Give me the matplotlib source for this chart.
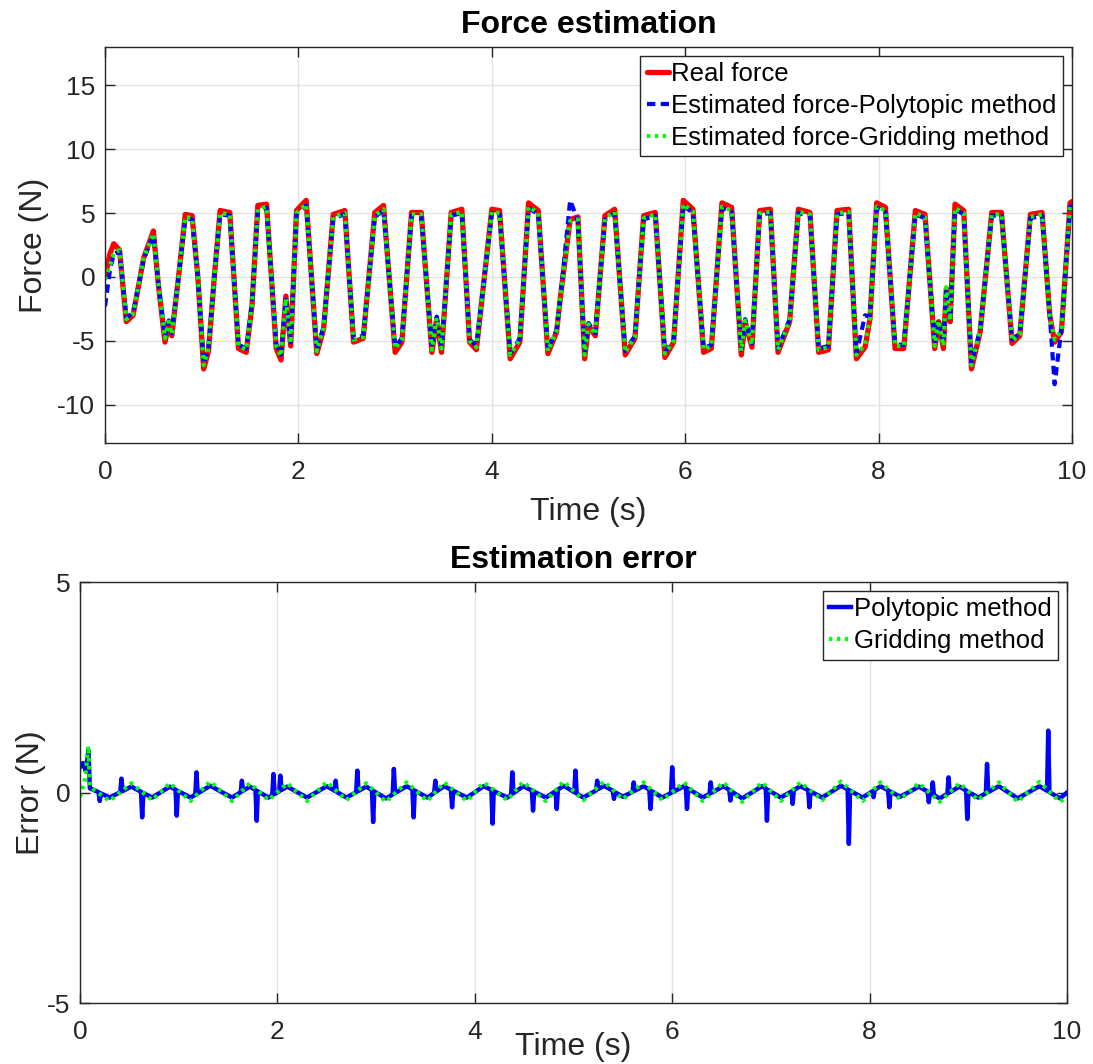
import numpy as np
import matplotlib
matplotlib.use("Agg")
import matplotlib.pyplot as plt

plt.rcParams['font.family'] = ['Liberation Sans', 'DejaVu Sans']
plt.rcParams['axes.unicode_minus'] = False

# ---------------- data ----------------
real_t = [0.00,0.05,0.09,0.15,0.22,0.29,0.40,0.50,0.55,0.62,
          0.66,0.69,0.76,0.83,0.90,0.96,1.02,1.07,1.13,1.19,
          1.29,1.38,1.46,1.52,1.58,1.67,1.77,1.82,1.87,1.92,
          1.98,2.08,2.19,2.26,2.36,2.48,2.57,2.67,2.79,2.88,
          3.00,3.07,3.17,3.27,3.38,3.43,3.48,3.58,3.69,3.77,
          3.84,4.00,4.08,4.19,4.29,4.38,4.48,4.58,4.67,4.71,
          4.81,4.89,4.96,5.00,5.07,5.17,5.27,5.38,5.48,5.57,
          5.69,5.79,5.88,5.98,6.08,6.19,6.27,6.38,6.48,6.58,
          6.62,6.69,6.77,6.88,6.96,7.08,7.17,7.29,7.38,7.48,
          7.57,7.69,7.77,7.86,7.91,7.98,8.07,8.17,8.26,8.38,
          8.48,8.58,8.62,8.67,8.70,8.74,8.79,8.88,8.96,9.05,
          9.17,9.27,9.38,9.46,9.57,9.69,9.77,9.82,9.89,9.98,
          10.0]
real_force = [0.0,1.8,2.6,2.1,-3.5,-3.0,1.5,3.6,-0.5,-5.1,
              -3.6,-4.6,0.0,4.9,4.8,0.0,-7.2,-5.8,0.0,5.2,
              5.05,-5.6,-5.9,-2.2,5.6,5.7,-5.6,-6.5,-1.5,-5.4,
              5.2,6.0,-6.0,-4.1,4.9,5.2,-5.1,-4.8,5.05,5.6,
              -5.9,-5.1,5.05,5.05,-5.9,-3.3,-5.9,5.05,5.3,-5.1,
              -5.7,5.3,5.2,-6.4,-5.1,5.8,5.2,-6.0,-4.3,-1.5,
              4.5,4.7,-6.4,-3.8,-4.6,4.8,5.3,-6.1,-4.8,4.8,
              5.05,-6.3,-5.1,6.0,5.3,-5.9,-5.6,5.8,5.45,-6.1,
              -3.5,-5.5,5.2,5.3,-5.9,-3.5,5.3,5.05,-5.9,-5.7,
              5.2,5.3,-6.4,-5.5,-3.3,5.8,5.45,-5.6,-5.6,5.2,
              4.9,-5.6,-3.5,-5.6,-0.9,-3.5,5.7,5.2,-7.2,-4.3,
              5.05,5.05,-5.2,-4.6,4.9,5.05,-3.0,-5.1,-4.3,5.8,
              5.9]
est_poly = [-2.3,0.5,1.8,2.0,-3.2,-2.8,1.4,3.3,-0.4,-4.7,
            -3.4,-4.4,0.0,4.6,4.5,0.0,-6.8,-5.5,0.0,4.9,
            4.8,-5.3,-5.6,-2.0,5.2,5.4,-5.3,-6.1,-1.8,-5.1,
            4.9,5.6,-5.7,-3.9,4.6,4.9,-4.8,-4.6,4.7,5.2,
            -5.5,-4.8,4.8,4.8,-5.6,-3.1,-5.5,4.8,5.0,-4.9,
            -5.4,5.0,4.9,-6.0,-4.8,5.4,4.9,-5.7,-4.1,-1.6,
            6.0,4.4,-6.0,-3.6,-4.4,4.5,5.0,-5.8,-4.6,4.5,
            4.8,-5.9,-4.9,5.6,5.0,-5.6,-5.3,5.4,5.1,-5.7,
            -3.3,-5.2,4.9,5.0,-5.6,-3.3,5.0,4.8,-5.6,-5.4,
            4.9,5.0,-6.0,-3.0,-3.1,5.4,5.1,-5.3,-5.3,4.9,
            4.6,-5.3,-3.3,-5.3,-1.0,-3.3,5.3,4.9,-6.8,-4.1,
            4.8,4.8,-4.9,-4.4,4.6,4.8,-3.0,-8.4,-4.1,5.5,
            5.6]
est_grid = [-0.2,0.8,1.9,2.1,-3.3,-2.9,1.5,3.4,-0.4,-4.8,
            -3.5,-4.5,0.0,4.7,4.6,0.0,-6.9,-5.6,0.0,5.0,
            4.9,-5.4,-5.7,-2.1,5.3,5.5,-5.4,-6.2,-1.7,-5.2,
            5.0,5.7,-5.8,-4.0,4.7,5.0,-4.9,-4.7,4.8,5.3,
            -5.6,-4.9,4.9,4.9,-5.7,-3.2,-5.6,4.9,5.1,-5.0,
            -5.5,5.1,5.0,-6.1,-4.9,5.5,5.0,-5.8,-4.2,-1.5,
            4.4,4.5,-6.1,-3.7,-4.5,4.6,5.1,-5.9,-4.7,4.6,
            4.9,-6.0,-5.0,5.7,5.1,-5.7,-5.4,5.5,5.2,-5.8,
            -3.4,-5.3,5.0,5.1,-5.7,-3.4,5.1,4.9,-5.7,-5.5,
            5.0,5.1,-6.1,-5.3,-3.2,5.5,5.2,-5.4,-5.4,5.0,
            4.7,-5.4,-3.4,-5.4,-0.8,-3.4,5.4,5.0,-6.9,-4.2,
            4.9,4.9,-5.0,-4.5,4.7,4.9,-3.1,-4.9,-4.2,5.6,
            5.7]

grid_err_t = [0.0,0.05,0.085,0.10,0.15,0.30,0.52,0.73,0.91,1.12,
              1.32,1.54,1.72,1.91,2.10,2.30,2.50,2.70,2.90,3.10,
              3.31,3.52,3.69,3.92,4.09,4.33,4.49,4.72,4.90,5.10,
              5.31,5.50,5.71,5.90,6.12,6.31,6.52,6.71,6.91,7.10,
              7.30,7.52,7.71,7.93,8.11,8.31,8.50,8.71,8.91,9.10,
              9.31,9.50,9.72,9.93,10.0]
grid_err = [-0.1,0.3,1.1,0.15,0.05,-0.2,0.22,-0.18,0.22,-0.2,
            0.26,-0.2,0.22,-0.18,0.22,-0.2,0.25,-0.18,0.22,-0.22,
            0.24,-0.2,0.24,-0.2,0.24,-0.18,0.25,-0.2,0.26,-0.18,
            0.26,-0.16,0.24,-0.18,0.24,-0.2,0.24,-0.22,0.24,-0.2,
            0.24,-0.18,0.26,-0.2,0.24,-0.16,0.22,-0.22,0.22,-0.18,
            0.24,-0.22,0.25,-0.22,-0.1]

poly_err_t = [0.0,0.03,0.06,0.085,0.10,0.15,0.30,0.52,0.73,0.91,1.12,
              1.32,1.54,1.72,1.91,2.10,2.30,2.50,2.70,2.90,3.10,
              3.31,3.52,3.69,3.92,4.09,4.33,4.49,4.72,4.90,5.10,
              5.31,5.50,5.71,5.90,6.12,6.31,6.52,6.71,6.91,7.10,
              7.30,7.52,7.71,7.93,8.11,8.31,8.50,8.71,8.91,9.10,
              9.31,9.50,9.72,9.93,10.0]
poly_err = [0.6,0.7,0.5,1.0,0.1,0.05,-0.12,0.14,-0.12,0.14,-0.12,
            0.16,-0.12,0.14,-0.12,0.14,-0.12,0.15,-0.12,0.14,-0.14,
            0.15,-0.12,0.15,-0.12,0.15,-0.12,0.15,-0.12,0.16,-0.12,
            0.16,-0.1,0.15,-0.12,0.15,-0.12,0.15,-0.14,0.15,-0.12,
            0.15,-0.12,0.16,-0.12,0.15,-0.1,0.14,-0.14,0.14,-0.12,
            0.15,-0.14,0.15,-0.14,0.0]
poly_spike_t = [0.20,0.42,0.63,0.98,1.18,1.64,1.79,1.96,2.03,2.59,
                2.81,2.97,3.18,3.38,3.60,3.77,4.18,4.38,4.59,4.83,
                5.02,5.24,5.41,5.61,5.78,6.00,6.15,6.39,6.59,6.96,
                7.22,7.39,7.79,8.04,8.20,8.60,8.64,8.80,8.99,9.19,
                9.81]
poly_spike = [-0.2,0.33,-0.59,-0.55,0.48,0.28,-0.67,0.44,0.4,0.28,
              0.52,-0.7,0.56,-0.59,0.28,-0.35,-0.74,0.48,-0.43,-0.39,
              0.52,0.28,-0.15,0.24,-0.39,0.6,-0.39,0.24,-0.19,-0.67,
              -0.27,-0.35,-1.22,-0.11,-0.35,-0.23,0.24,0.36,-0.63,0.68,
              1.47]

# ---------------- figure ----------------
fig = plt.figure(figsize=(10.93, 10.64), dpi=100)
ax1 = fig.add_axes([0.0961, 0.5836, 0.8847, 0.3722])
ax2 = fig.add_axes([0.0732, 0.0573, 0.9030, 0.3957])

txt = '#262626'

def style(ax):
    ax.grid(True, color='#e3e3e3', linewidth=1.0)
    ax.set_axisbelow(True)
    ax.tick_params(direction='in', length=7, width=1, top=True, right=True,
                   labelsize=19, colors=txt, pad=7)
    ax.tick_params(axis='x', pad=12)
    for s in ax.spines.values():
        s.set_color('#262626')
        s.set_linewidth(1.0)

def legend(ax):
    leg = ax.legend(loc='upper right', fontsize=18.5, handlelength=0.85,
                    handletextpad=0.1, borderpad=0.25, labelspacing=0.3,
                    borderaxespad=0.35, fancybox=False, framealpha=1)
    leg.get_frame().set_edgecolor('#262626')
    leg.get_frame().set_linewidth(1.0)
    return leg

# top panel
ax1.plot(real_t, real_force, color='#ff0000', lw=3.8, label='Real force',
         solid_joinstyle='round', solid_capstyle='round')
ax1.plot(real_t, est_poly, color='#0000ff', lw=3.0, ls=(0, (2.0, 1.3)),
         label='Estimated force-Polytopic method')
ax1.plot(real_t, est_grid, color='#00ff00', lw=3.0, ls=(0, (0.8, 1.1)),
         label='Estimated force-Gridding method')
ax1.set_xlim(0, 10)
ax1.set_ylim(-13, 18)
ax1.set_xticks([0, 2, 4, 6, 8, 10])
ax1.set_yticks([-10, -5, 0, 5, 10, 15])
style(ax1)
ax1.set_title('Force estimation', fontsize=23, fontweight='bold', pad=10)
ax1.set_xlabel('Time (s)', fontsize=23, color=txt)
ax1.set_ylabel('Force (N)', fontsize=23, color=txt)
ax1.xaxis.set_label_coords(0.5, -0.175)
ax1.xaxis.label.set_va('center')
ax1.yaxis.set_label_coords(-0.073, 0.5)
ax1.yaxis.label.set_va('center')
legend(ax1)

# bottom panel: polytopic error = base wave with narrow spikes
hw = 0.012
sp_t = np.asarray(poly_spike_t)
sp_v = np.asarray(poly_spike)
sh_l = np.interp(sp_t - hw, poly_err_t, poly_err)
sh_r = np.interp(sp_t + hw, poly_err_t, poly_err)
all_t = np.concatenate([poly_err_t, sp_t - hw, sp_t, sp_t + hw])
all_v = np.concatenate([poly_err, sh_l, sp_v, sh_r])
order = np.argsort(all_t, kind='stable')

ax2.plot(all_t[order], all_v[order], color='#0000ff', lw=3.2,
         label='Polytopic method', solid_joinstyle='round')
ax2.plot(grid_err_t, grid_err, color='#00ff00', lw=3.0, ls=(0, (0.8, 1.1)),
         label='Gridding method')
ax2.set_xlim(0, 10)
ax2.set_ylim(-5, 5)
ax2.set_xticks([0, 2, 4, 6, 8, 10])
ax2.set_yticks([-5, 0, 5])
style(ax2)
ax2.set_title('Estimation error', fontsize=23, fontweight='bold', pad=10)
ax2.set_xlabel('Time (s)', fontsize=23, color=txt)
ax2.set_ylabel('Error (N)', fontsize=23, color=txt)
ax2.xaxis.set_label_coords(0.5, -0.105)
ax2.xaxis.label.set_va('center')
ax2.yaxis.set_label_coords(-0.05, 0.5)
ax2.yaxis.label.set_va('center')
legend(ax2)

fig.savefig('out.png', dpi=100)
